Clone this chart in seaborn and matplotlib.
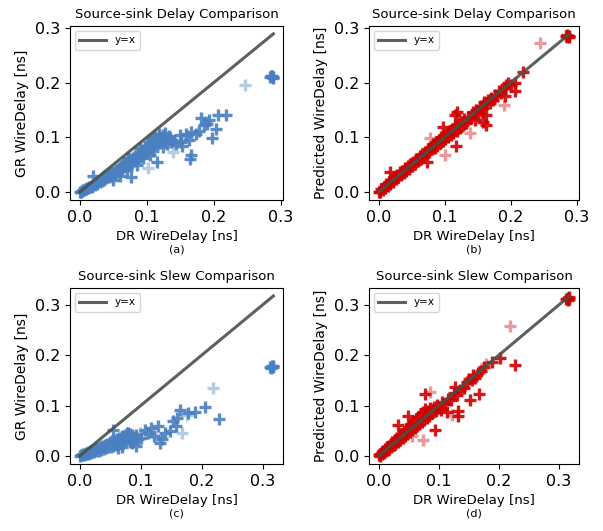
import matplotlib
matplotlib.use("Agg")
import matplotlib.pyplot as plt
import seaborn as sns
import pandas as pd

# ---- data (ns) ----
# (a) delay: GR vs DR
a_dr = [0.000, 0.002, 0.004, 0.005, 0.007, 0.008, 0.010, 0.011, 0.013, 0.014, 0.016, 0.018, 0.019, 0.021,
        0.020, 0.023, 0.025, 0.026, 0.028, 0.030, 0.031, 0.033, 0.035, 0.036, 0.038, 0.040, 0.042, 0.044,
        0.045, 0.047, 0.049, 0.050, 0.052, 0.054, 0.056, 0.058, 0.060, 0.062, 0.063, 0.065, 0.067, 0.069,
        0.070, 0.072, 0.074, 0.075, 0.077, 0.078, 0.080, 0.082, 0.083, 0.085, 0.087, 0.088, 0.090, 0.092,
        0.094, 0.095, 0.097, 0.099, 0.100, 0.102, 0.103, 0.105, 0.107, 0.108, 0.110, 0.112, 0.113, 0.115,
        0.116, 0.117, 0.119, 0.120, 0.122, 0.124, 0.126, 0.128, 0.130, 0.132, 0.134, 0.136,
        0.060, 0.070, 0.085, 0.095, 0.105, 0.110, 0.125, 0.090, 0.072, 0.118, 0.128, 0.140, 0.135,
        0.144, 0.149, 0.151, 0.153, 0.158, 0.163, 0.166, 0.164, 0.166, 0.173, 0.178, 0.181, 0.186, 0.190,
        0.193, 0.198, 0.203, 0.207, 0.218, 0.284, 0.286, 0.288, 0.289, 0.287]
a_gr = [0.000, 0.001, 0.002, 0.004, 0.003, 0.006, 0.005, 0.008, 0.007, 0.010, 0.009, 0.012, 0.010, 0.014,
        0.030, 0.013, 0.017, 0.015, 0.020, 0.018, 0.023, 0.020, 0.026, 0.022, 0.028, 0.025, 0.031, 0.027,
        0.035, 0.030, 0.037, 0.022, 0.033, 0.040, 0.036, 0.044, 0.038, 0.047, 0.042, 0.050, 0.045, 0.053,
        0.048, 0.056, 0.051, 0.060, 0.028, 0.054, 0.062, 0.057, 0.066, 0.060, 0.069, 0.063, 0.073, 0.066,
        0.077, 0.070, 0.081, 0.073, 0.085, 0.077, 0.092, 0.080, 0.088, 0.097, 0.083, 0.092, 0.100, 0.087,
        0.055, 0.095, 0.103, 0.090, 0.098, 0.105, 0.093, 0.100, 0.088, 0.097, 0.103, 0.092,
        0.030, 0.040, 0.050, 0.062, 0.068, 0.075, 0.082, 0.080, 0.063, 0.106, 0.108, 0.094, 0.098,
        0.088, 0.104, 0.092, 0.085, 0.107, 0.095, 0.110, 0.061, 0.067, 0.107, 0.111, 0.135, 0.122, 0.125,
        0.131, 0.098, 0.115, 0.141, 0.140, 0.210, 0.213, 0.211, 0.209, 0.212]
a_dr_faint = [0.246, 0.139, 0.102, 0.188, 0.160]
a_gr_faint = [0.196, 0.073, 0.044, 0.128, 0.100]

# (b) delay: predicted vs DR
b_dr = [0.000, 0.002, 0.004, 0.006, 0.008, 0.010, 0.012, 0.014, 0.016, 0.017, 0.018, 0.020, 0.022, 0.024,
        0.026, 0.028, 0.030, 0.032, 0.034, 0.036, 0.038, 0.040, 0.042, 0.044, 0.046, 0.048, 0.050, 0.052,
        0.055, 0.057, 0.060, 0.062, 0.064, 0.066, 0.068, 0.070, 0.072, 0.074, 0.075, 0.077, 0.079, 0.081,
        0.083, 0.085, 0.087, 0.089, 0.091, 0.093, 0.095, 0.097, 0.097, 0.099, 0.101, 0.103, 0.105, 0.107,
        0.109, 0.111, 0.113, 0.115, 0.116, 0.118, 0.119, 0.119, 0.121, 0.123, 0.125, 0.128, 0.130, 0.133,
        0.136, 0.140, 0.143, 0.146, 0.148, 0.150, 0.153, 0.155, 0.158, 0.158, 0.160, 0.163, 0.163, 0.163,
        0.165, 0.168, 0.170, 0.173, 0.176, 0.180, 0.183, 0.186, 0.190, 0.191, 0.193, 0.196, 0.200, 0.207,
        0.207, 0.219, 0.284, 0.286, 0.288, 0.289, 0.285]
b_pred = [0.001, 0.000, 0.005, 0.004, 0.009, 0.008, 0.014, 0.012, 0.018, 0.037, 0.015, 0.022, 0.019, 0.027,
          0.024, 0.032, 0.027, 0.036, 0.031, 0.039, 0.035, 0.044, 0.039, 0.048, 0.043, 0.051, 0.047, 0.055,
          0.052, 0.060, 0.056, 0.066, 0.060, 0.069, 0.065, 0.073, 0.069, 0.055, 0.078, 0.073, 0.083, 0.078,
          0.087, 0.081, 0.091, 0.085, 0.095, 0.089, 0.100, 0.093, 0.119, 0.104, 0.097, 0.108, 0.101, 0.112,
          0.105, 0.116, 0.108, 0.120, 0.140, 0.085, 0.147, 0.112, 0.124, 0.118, 0.128, 0.122, 0.133, 0.127,
          0.138, 0.135, 0.146, 0.131, 0.150, 0.145, 0.152, 0.158, 0.128, 0.153, 0.164, 0.161, 0.140, 0.122,
          0.168, 0.163, 0.172, 0.169, 0.178, 0.176, 0.184, 0.181, 0.190, 0.176, 0.195, 0.200, 0.196, 0.199,
          0.185, 0.219, 0.285, 0.283, 0.286, 0.284, 0.287]
b_dr_faint = [0.245, 0.190, 0.139, 0.078, 0.101, 0.155]
b_pred_faint = [0.273, 0.159, 0.108, 0.098, 0.067, 0.140]

# (c) slew: GR vs DR
c_dr = [0.000, 0.002, 0.004, 0.005, 0.007, 0.008, 0.010, 0.011, 0.013, 0.014, 0.016, 0.018, 0.019, 0.021,
        0.023, 0.025, 0.027, 0.029, 0.031, 0.033, 0.035, 0.037, 0.039, 0.041, 0.043, 0.045, 0.047, 0.049,
        0.051, 0.053, 0.055, 0.055, 0.057, 0.059, 0.061, 0.063, 0.065, 0.067, 0.069, 0.071, 0.072, 0.074,
        0.076, 0.078, 0.079, 0.080, 0.082, 0.084, 0.086, 0.088, 0.090, 0.093, 0.095, 0.101, 0.107, 0.112,
        0.117, 0.122, 0.128, 0.131, 0.134, 0.140, 0.148, 0.153, 0.158, 0.160, 0.164, 0.178, 0.189, 0.205,
        0.062, 0.070, 0.085, 0.092, 0.075, 0.083,
        0.228, 0.312, 0.315, 0.317, 0.314, 0.316]
c_gr = [0.000, 0.001, 0.001, 0.003, 0.002, 0.004, 0.003, 0.006, 0.004, 0.008, 0.005, 0.010, 0.006, 0.011,
        0.007, 0.013, 0.009, 0.015, 0.010, 0.017, 0.012, 0.019, 0.013, 0.022, 0.015, 0.024, 0.017, 0.027,
        0.018, 0.029, 0.052, 0.020, 0.031, 0.022, 0.034, 0.024, 0.036, 0.026, 0.039, 0.026, 0.030, 0.042,
        0.032, 0.045, 0.046, 0.034, 0.044, 0.036, 0.041, 0.030, 0.038, 0.019, 0.033, 0.036, 0.052, 0.046,
        0.056, 0.040, 0.059, 0.026, 0.033, 0.045, 0.049, 0.069, 0.059, 0.076, 0.092, 0.085, 0.087, 0.097,
        0.015, 0.018, 0.025, 0.042, 0.038, 0.028,
        0.074, 0.176, 0.178, 0.177, 0.175, 0.179]
c_dr_faint = [0.2175, 0.167, 0.125, 0.175, 0.098]
c_gr_faint = [0.135, 0.046, 0.037, 0.082, 0.045]

# (d) slew: predicted vs DR
d_dr = [0.000, 0.002, 0.003, 0.005, 0.006, 0.008, 0.009, 0.011, 0.012, 0.014, 0.015, 0.017, 0.018, 0.020,
        0.021, 0.023, 0.025, 0.027, 0.028, 0.030, 0.032, 0.033, 0.034, 0.036, 0.038, 0.040, 0.042, 0.044,
        0.046, 0.048, 0.049, 0.050, 0.052, 0.054, 0.056, 0.058, 0.060, 0.062, 0.064, 0.066, 0.068, 0.070,
        0.072, 0.074, 0.076, 0.077, 0.078, 0.080, 0.082, 0.084, 0.086, 0.089, 0.092, 0.094, 0.095, 0.098,
        0.101, 0.104, 0.105, 0.110, 0.114, 0.115, 0.120, 0.125, 0.128, 0.130, 0.132, 0.132, 0.135, 0.140,
        0.143, 0.148, 0.150, 0.153, 0.155, 0.158, 0.160, 0.165, 0.167, 0.170, 0.175, 0.189, 0.203, 0.227,
        0.313, 0.316, 0.318, 0.315, 0.317]
d_pred = [0.001, 0.003, 0.000, 0.007, 0.004, 0.010, 0.006, 0.013, 0.009, 0.017, 0.011, 0.020, 0.014, 0.024,
          0.017, 0.027, 0.021, 0.031, 0.024, 0.035, 0.028, 0.062, 0.039, 0.032, 0.043, 0.036, 0.048, 0.040,
          0.053, 0.044, 0.079, 0.058, 0.048, 0.063, 0.052, 0.068, 0.056, 0.073, 0.060, 0.078, 0.064, 0.083,
          0.068, 0.088, 0.072, 0.124, 0.093, 0.076, 0.090, 0.080, 0.095, 0.085, 0.097, 0.051, 0.090, 0.102,
          0.096, 0.092, 0.108, 0.104, 0.087, 0.114, 0.112, 0.125, 0.138, 0.122, 0.089, 0.079, 0.132, 0.138,
          0.135, 0.148, 0.153, 0.111, 0.152, 0.160, 0.156, 0.165, 0.124, 0.168, 0.176, 0.186, 0.195, 0.181,
          0.312, 0.314, 0.313, 0.310, 0.316]
d_dr_faint = [0.219, 0.179, 0.123, 0.086, 0.074, 0.055]
d_pred_faint = [0.258, 0.183, 0.082, 0.128, 0.032, 0.040]

BLUE = "#4a80c0"
RED = "#d00000"
LINE = "#47524a"

panels = [
    (a_dr, a_gr, a_dr_faint, a_gr_faint, BLUE, "Source-sink Delay Comparison", "GR WireDelay [ns]", "(a)"),
    (b_dr, b_pred, b_dr_faint, b_pred_faint, RED, "Source-sink Delay Comparison", "Predicted WireDelay [ns]", "(b)"),
    (c_dr, c_gr, c_dr_faint, c_gr_faint, BLUE, "Source-sink Slew Comparison", "GR WireDelay [ns]", "(c)"),
    (d_dr, d_pred, d_dr_faint, d_pred_faint, RED, "Source-sink Slew Comparison", "Predicted WireDelay [ns]", "(d)"),
]

# axes boxes in figure fractions (left, bottom, width, height)
boxes = [
    (70 / 603, 1 - 200 / 531, 213 / 603, 174 / 531),
    (369 / 603, 1 - 200 / 531, 210 / 603, 174 / 531),
    (70 / 603, 1 - 464 / 531, 213 / 603, 176 / 531),
    (369 / 603, 1 - 464 / 531, 210 / 603, 176 / 531),
]

fig = plt.figure(figsize=(6.03, 5.31), dpi=100)

for (x, y, xf, yf, col, title, ylab, cap), box in zip(panels, boxes):
    ax = fig.add_axes(box)
    df = pd.DataFrame({"dr": x, "other": y})
    dff = pd.DataFrame({"dr": xf, "other": yf})
    sns.scatterplot(data=df, x="dr", y="other", marker="+", s=70, linewidth=2.4,
                    color=col, alpha=0.9, ax=ax, zorder=2)
    sns.scatterplot(data=dff, x="dr", y="other", marker="+", s=70, linewidth=2.4,
                    color=col, alpha=0.4, ax=ax, zorder=2)
    top = max(x)
    ax.plot([0, top], [0, top], color=LINE, lw=2.2, alpha=0.9, zorder=3, label="y=x")
    ax.set_xticks([0, 0.1, 0.2, 0.3])
    ax.set_yticks([0, 0.1, 0.2, 0.3])
    ax.set_xticklabels(["0.0", "0.1", "0.2", "0.3"])
    ax.set_yticklabels(["0.0", "0.1", "0.2", "0.3"])
    ax.tick_params(labelsize=11.5)
    ax.set_title(title, fontsize=9.5, pad=6)
    ax.set_xlabel("DR WireDelay [ns]", fontsize=9.5, labelpad=4)
    ax.set_ylabel(ylab, fontsize=10)
    ax.legend(loc="upper left", fontsize=7.5, handlelength=2.6)
    pos = ax.get_position()
    fig.text(pos.x0 + pos.width / 2, pos.y0 - 50 / 531, cap, ha="center", va="center", fontsize=8)

fig.savefig("out.png", dpi=100)
